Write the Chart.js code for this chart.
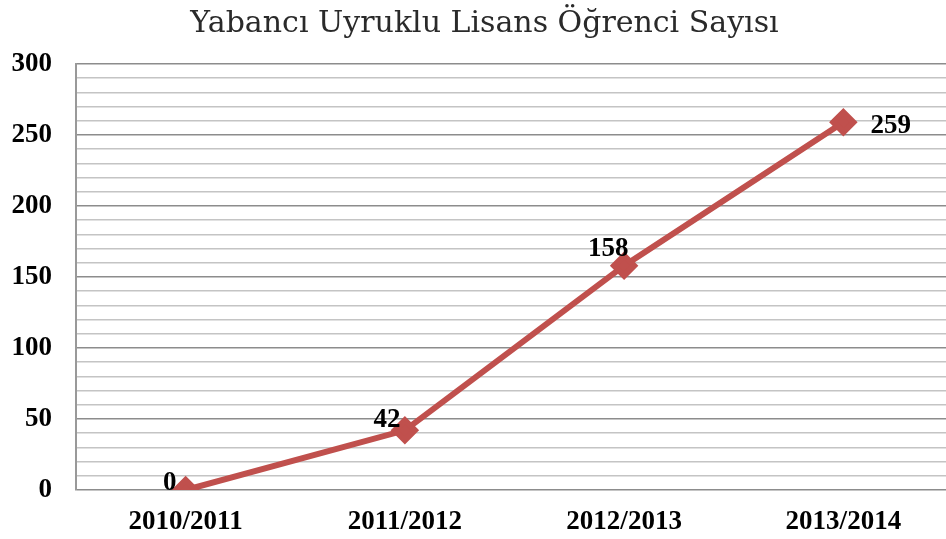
<!DOCTYPE html>
<html>
<head>
<meta charset="utf-8">
<script src="https://cdn.jsdelivr.net/npm/chart.js@4"></script>
<style>
    html, body { margin: 0; padding: 0; background: #fff; overflow: hidden; }
    #wrap { width: 946px; height: 539px; overflow: hidden; }
</style>
</head>
<body>
<div id="wrap"><canvas id="studentChart" width="969" height="539"></canvas></div>
<script>
const chartTitle = "Yabancı Uyruklu Lisans Öğrenci Sayısı";
const years = ["2010/2011", "2011/2012", "2012/2013", "2013/2014"];
const studentCounts = [0, 42, 158, 259];

// where each value label sits relative to its point (dx, dy, align)
const labelOffsets = [
    { dx: -16, dy: 0, align: 'center' },
    { dx: -18, dy: -3, align: 'center' },
    { dx: -16, dy: -10, align: 'center' },
    { dx: 27, dy: 11, align: 'left' }
];

const labelFont = { family: '"Liberation Serif", "Times New Roman", serif', size: 27, weight: 'bold' };

const valueLabels = {
    id: 'valueLabels',
    afterDatasetsDraw(chart) {
        const ctx = chart.ctx;
        const meta = chart.getDatasetMeta(0);
        ctx.save();
        ctx.font = 'bold 27px "Liberation Serif", "Times New Roman", serif';
        ctx.fillStyle = '#000';
        ctx.textBaseline = 'alphabetic';
        meta.data.forEach((pt, i) => {
            const o = labelOffsets[i];
            ctx.textAlign = o.align;
            ctx.fillText(String(studentCounts[i]), pt.x + o.dx, pt.y + o.dy);
        });
        ctx.restore();
    }
};

const ctx = document.getElementById("studentChart").getContext("2d");
new Chart(ctx, {
    type: 'line',
    data: {
        labels: years,
        datasets: [{
            data: studentCounts,
            borderColor: '#c0504d',
            backgroundColor: '#c0504d',
            borderWidth: 6,
            pointStyle: 'rectRot',
            pointRadius: 10,
            pointHoverRadius: 10,
            tension: 0
        }]
    },
    options: {
        responsive: false,
        animation: false,
        layout: { padding: 0 },
        plugins: {
            legend: { display: false },
            tooltip: { enabled: false },
            title: {
                display: true,
                text: chartTitle,
                color: '#2a2a2a',
                font: { family: '"DejaVu Serif", serif', size: 30, weight: 'normal' },
                padding: { top: 6, bottom: 22 }
            }
        },
        scales: {
            x: {
                offset: true,
                afterFit(scale) {
                    scale.height = 49;
                    scale.paddingLeft = 0;
                    scale.paddingRight = 0;
                },
                grid: { display: false, drawTicks: false },
                border: { display: false },
                ticks: {
                    color: '#000',
                    padding: 16,
                    font: labelFont
                }
            },
            y: {
                min: 0,
                max: 300,
                afterFit(scale) {
                    scale.width = 76;
                    scale.paddingTop = 0;
                    scale.paddingBottom = 0;
                },
                border: { display: true, color: '#999', width: 2 },
                grid: {
                    drawTicks: false,
                    lineWidth: 1.5,
                    color: (c) => (c.tick && c.tick.value % 50 === 0) ? '#8c8c8c' : '#c4c4c4'
                },
                ticks: {
                    stepSize: 10,
                    autoSkip: false,
                    padding: 24,
                    color: '#000',
                    font: labelFont,
                    callback: (v) => v % 50 === 0 ? v : ''
                }
            }
        }
    },
    plugins: [valueLabels]
});
</script>
</body>
</html>
